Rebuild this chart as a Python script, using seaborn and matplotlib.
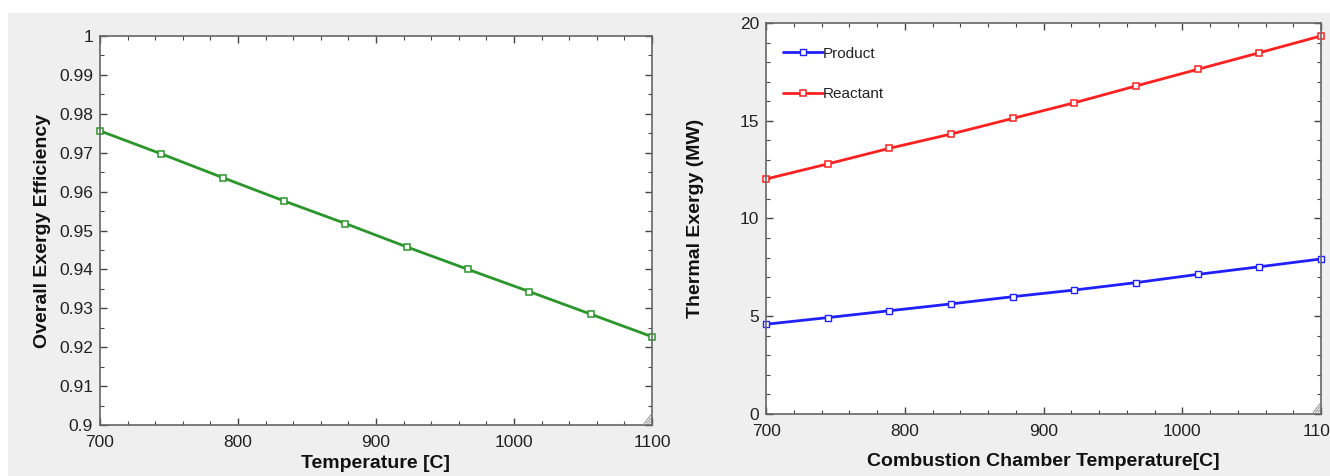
import numpy as np
import pandas as pd
import matplotlib.pyplot as plt
import seaborn as sns
from matplotlib.patches import Rectangle
from matplotlib.ticker import MultipleLocator, FuncFormatter

# Temperatures sampled in the chart (10 points)
temps = [700, 744.4, 788.9, 833.3, 877.8, 922.2, 966.7, 1011.1, 1055.6, 1100]

# Left panel: overall exergy efficiency
efficiency = [0.9756, 0.9697, 0.9636, 0.9576, 0.9518, 0.9458, 0.9400, 0.9343, 0.9285, 0.9227]

# Right panel: thermal exergy (MW)
product = [4.59, 4.93, 5.28, 5.63, 6.00, 6.34, 6.72, 7.14, 7.53, 7.93]
reactant = [12.02, 12.79, 13.59, 14.32, 15.12, 15.92, 16.78, 17.63, 18.48, 19.34]

sns.set_theme(style="ticks")
plt.rcParams['font.family'] = ['Liberation Sans', 'DejaVu Sans']
plt.rcParams['text.color'] = '#222222'
plt.rcParams['axes.labelcolor'] = '#111111'

fig = plt.figure(figsize=(13.3, 4.76), dpi=100)
fig.patch.set_facecolor('white')
fig.patches.append(Rectangle((8 / 1330, 0), 1, 1 - 13 / 476, transform=fig.transFigure,
                             facecolor='#efefef', edgecolor='none', zorder=-10))

ax1 = fig.add_axes([0.0752, 0.1071, 0.415, 0.8173])
ax2 = fig.add_axes([0.5760, 0.1303, 0.4173, 0.8214])

df_eff = pd.DataFrame({'T': temps, 'eff': efficiency})
sns.lineplot(data=df_eff, x='T', y='eff', ax=ax1, color='#2a962a', lw=2.0,
             marker='s', markersize=5, markerfacecolor='white',
             markeredgecolor='#2a962a', markeredgewidth=1.1, clip_on=False)

df_ex = pd.DataFrame({'T': temps, 'Product': product, 'Reactant': reactant})
sns.lineplot(data=df_ex, x='T', y='Product', ax=ax2, color='#2020ff', lw=2.0,
             marker='s', markersize=4, markerfacecolor='white',
             markeredgecolor='#2020ff', markeredgewidth=1.0, label='Product', clip_on=False)
sns.lineplot(data=df_ex, x='T', y='Reactant', ax=ax2, color='#ff2020', lw=2.0,
             marker='s', markersize=5, markerfacecolor='white',
             markeredgecolor='#ff2020', markeredgewidth=1.1, label='Reactant', clip_on=False)

ax1.set_xlim(700, 1100)
ax1.set_ylim(0.9, 1.0)
ax1.xaxis.set_major_locator(MultipleLocator(100))
ax1.xaxis.set_minor_locator(MultipleLocator(20))
ax1.yaxis.set_major_locator(MultipleLocator(0.01))
ax1.yaxis.set_minor_locator(MultipleLocator(0.005))
ax1.yaxis.set_major_formatter(FuncFormatter(lambda v, p: f'{v:g}'))
ax1.set_xlabel('Temperature [C]', fontsize=14, fontweight='bold', labelpad=4)
ax1.set_ylabel('Overall Exergy Efficiency', fontsize=14, fontweight='bold', labelpad=6)

ax2.set_xlim(700, 1100)
ax2.set_ylim(0, 20)
ax2.xaxis.set_major_locator(MultipleLocator(100))
ax2.xaxis.set_minor_locator(MultipleLocator(20))
ax2.yaxis.set_major_locator(MultipleLocator(5))
ax2.yaxis.set_minor_locator(MultipleLocator(1))
ax2.set_xlabel('Combustion Chamber Temperature[C]', fontsize=14, fontweight='bold', labelpad=10)
ax2.set_ylabel('Thermal Exergy (MW)', fontsize=14, fontweight='bold', labelpad=26)

for ax in (ax1, ax2):
    ax.set_facecolor('white')
    for s in ax.spines.values():
        s.set_visible(True)
        s.set_color('#666666')
        s.set_linewidth(1.2)
    ax.tick_params(which='both', direction='in', top=True, right=True,
                   labeltop=False, labelright=False, colors='#444444',
                   labelcolor='#222222', labelsize=12.5)
    ax.tick_params(which='major', length=5, width=1.0)
    ax.tick_params(which='minor', length=3, width=0.8)
    ax.tick_params(axis='y', pad=5)
    ax.tick_params(axis='x', pad=7)
    # small resize grip in the bottom-right corner
    for k in (0.010, 0.018, 0.026):
        ax.plot([1 - k * 0.55, 1 - 0.002], [0.004, k * 1.0], transform=ax.transAxes,
                color='#9a9a9a', lw=0.8, clip_on=False)

leg = ax2.legend(loc='upper left', bbox_to_anchor=(0.02, 0.955), frameon=False,
                 fontsize=11, handlelength=2.6, handletextpad=0.0, labelspacing=1.75,
                 borderaxespad=0)

fig.savefig('out.png', dpi=100)
